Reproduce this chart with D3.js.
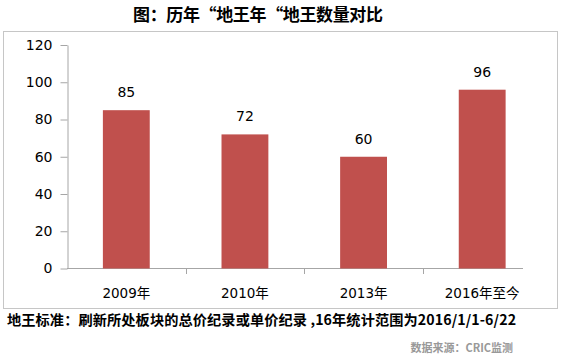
<!DOCTYPE html>
<html><head><meta charset="utf-8">
<script src="https://cdn.jsdelivr.net/npm/d3@7"></script>
<style>body{margin:0;background:#fff}svg{display:block}</style>
</head><body>
<script>
const title = "图：历年“地王年“地王数量对比";
const categories = ["2009年","2010年","2013年","2016年至今"];
const values = [85,72,60,96];
const yTicks = [0,20,40,60,80,100,120];
const footnote = "地王标准：刷新所处板块的总价纪录或单价纪录 ,16年统计范围为2016/1/1-6/22";
const source = "数据来源：CRIC监测";

const W=561,H=359;
const svg=d3.select("body").append("svg").attr("width",W).attr("height",H);
const font="'DejaVu Sans','Noto Sans CJK SC',sans-serif";
const cjk="'Noto Sans CJK SC','DejaVu Sans',sans-serif";

svg.append("text").attr("x",133).attr("y",21)
  .attr("font-family",cjk).attr("font-weight","bold").attr("font-size",17).attr("fill","#000")
  .attr("textLength",250).attr("lengthAdjust","spacing").text(title);

svg.append("rect").attr("x",3.5).attr("y",31.5).attr("width",554).attr("height",277)
  .attr("fill","none").attr("stroke","#c6c6c6");

const x=d3.scaleBand().domain(categories).range([67,541.5]).padding(0);
const y=d3.scaleLinear().domain([0,120]).range([268.5,45]);

const ya=d3.axisLeft(y).tickValues(yTicks).tickSize(7).tickPadding(8).tickSizeOuter(0);
const gy=svg.append("g").attr("transform","translate(67.5,0)").call(ya);
gy.selectAll("path,line").attr("stroke","#a6a6a6");
gy.selectAll("text").attr("font-family",font).attr("font-size",14).attr("fill","#000");

svg.append("line").attr("x1",67).attr("x2",523).attr("y1",268.5).attr("y2",268.5).attr("stroke","#a6a6a6");
svg.selectAll(".xt").data(categories.slice(1)).enter().append("line")
  .attr("x1",d=>Math.round(x(d))+0.5).attr("x2",d=>Math.round(x(d))+0.5)
  .attr("y1",268.5).attr("y2",274).attr("stroke","#a6a6a6");
svg.selectAll(".xl").data(categories).enter().append("text")
  .attr("x",d=>x(d)+x.bandwidth()/2).attr("y",298).attr("text-anchor","middle")
  .attr("font-family",font).attr("font-size",13.5).attr("fill","#000").text(d=>d);

const bw=x.bandwidth()*0.395;
svg.selectAll(".bar").data(values).enter().append("rect")
  .attr("x",(d,i)=>x(categories[i])+x.bandwidth()/2-bw/2)
  .attr("y",d=>y(d)).attr("width",bw).attr("height",d=>y(0)-y(d))
  .attr("fill","#C0504D");
svg.selectAll(".lbl").data(values).enter().append("text")
  .attr("x",(d,i)=>x(categories[i])+x.bandwidth()/2).attr("y",d=>y(d)-13)
  .attr("text-anchor","middle").attr("font-family",font).attr("font-size",14).attr("fill","#000").text(d=>d);

svg.append("text").attr("x",7).attr("y",325).attr("font-family",cjk).attr("font-weight","bold")
  .attr("font-size",14.2).attr("fill","#000").attr("textLength",509).attr("lengthAdjust","spacing").text(footnote);
svg.append("text").attr("x",513).attr("y",352).attr("text-anchor","end").attr("font-family",cjk).attr("font-weight","bold")
  .attr("font-size",11).attr("fill","#999").text(source);
</script>
</body></html>
